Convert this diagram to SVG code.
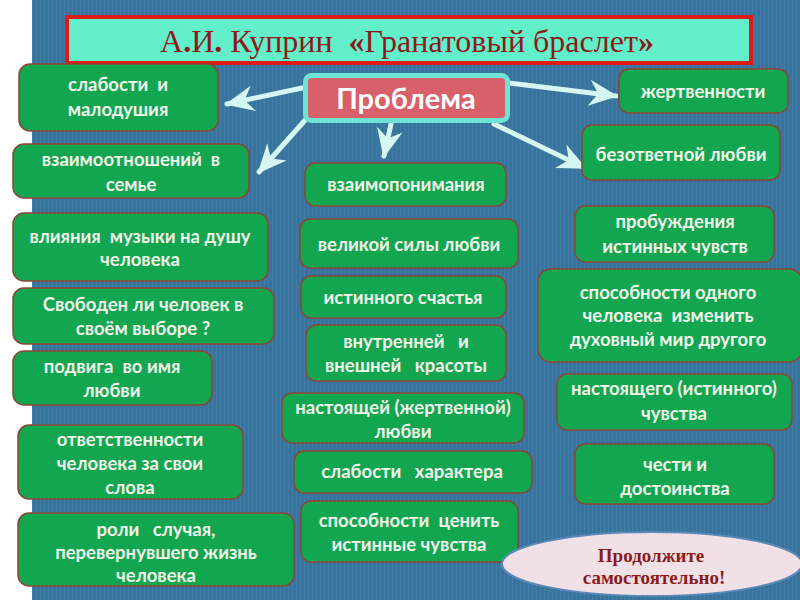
<svg xmlns="http://www.w3.org/2000/svg" width="800" height="600" viewBox="0 0 800 600">
<defs>
<pattern id="stripes" width="4" height="4" patternUnits="userSpaceOnUse">
<rect width="4" height="4" fill="#3a739b"/>
<rect width="1" height="4" fill="#3f7ca6"/>
</pattern>
<marker id="ah" markerUnits="userSpaceOnUse" viewBox="-30 -14 34 28" refX="0" refY="0" markerWidth="34" markerHeight="28" orient="auto">
<path d="M2,0 L-27,-13 L-18,0 L-27,13 Z" fill="#d4f7f2"/>
</marker>
<style>
text{white-space:pre}
.node rect{fill:#12a651;stroke:#8c4634;stroke-width:1.5}
.node text{font-family:Lato,"Noto Sans",sans-serif;font-weight:700;font-size:18.5px;fill:#f2f7ea;text-anchor:middle}
.conn line{stroke:#d4f7f2;stroke-width:5;stroke-linecap:round}
.serif{font-family:"Liberation Serif","Times New Roman",serif;fill:#8b1b1b}
</style>
</defs>
<rect width="800" height="600" fill="#ffffff"/>
<rect x="32" y="0" width="768" height="600" fill="url(#stripes)"/>

<g id="title">
<rect x="67" y="17" width="684" height="46" fill="#62efc9" stroke="#e01919" stroke-width="4"/>
<text class="serif" x="407" y="52" font-size="32" text-anchor="middle">А<tspan font-weight="700">.</tspan>И<tspan font-weight="700">.</tspan> Куприн  <tspan font-weight="700">«</tspan>Гранатовый браслет<tspan font-weight="700">»</tspan></text>
</g>

<g class="conn" id="connectors">
<line x1="302" y1="88" x2="227" y2="104" marker-end="url(#ah)"/>
<line x1="307" y1="118" x2="259" y2="172" marker-end="url(#ah)"/>
<line x1="391" y1="124" x2="384" y2="156" marker-end="url(#ah)"/>
<line x1="509" y1="83" x2="616" y2="96" marker-end="url(#ah)"/>
<line x1="494" y1="124" x2="585" y2="168" marker-end="url(#ah)"/>
</g>

<g id="problem">
<rect x="305.5" y="75.5" width="202" height="45" rx="6" fill="#d8606a" stroke="#6fe3d3" stroke-width="5"/>
<text x="406" y="109" font-family="Lato,'Noto Sans',sans-serif" font-weight="700" font-size="29" fill="#ffffff" text-anchor="middle">Проблема</text>
</g>

<g class="node" id="n1"><rect x="19" y="64" width="199" height="67" rx="11"/><text x="118" y="91">слабости  и</text><text x="118" y="116">малодушия</text></g>
<g class="node" id="n2"><rect x="13" y="144" width="236" height="54" rx="11"/><text x="131" y="166">взаимоотношений  в</text><text x="131" y="191">семье</text></g>
<g class="node" id="n3"><rect x="13" y="213" width="255" height="68" rx="11"/><text x="140" y="243">влияния  музыки на душу</text><text x="140" y="266">человека</text></g>
<g class="node" id="n4"><rect x="13" y="288" width="261" height="56" rx="11"/><text x="143" y="311">Свободен ли человек в</text><text x="143" y="335">своём выборе ?</text></g>
<g class="node" id="n5"><rect x="13" y="351" width="199" height="54" rx="11"/><text x="112" y="373">подвига  во имя</text><text x="112" y="397">любви</text></g>
<g class="node" id="n6"><rect x="18" y="425" width="225" height="74" rx="11"/><text x="130" y="446">ответственности</text><text x="130" y="470">человека за свои</text><text x="130" y="494">слова</text></g>
<g class="node" id="n7"><rect x="18" y="513" width="276" height="73" rx="11"/><text x="156" y="536">роли   случая,</text><text x="156" y="559">перевернувшего жизнь</text><text x="156" y="582">человека</text></g>

<g class="node" id="n8"><rect x="305" y="163" width="201" height="43" rx="10"/><text x="406" y="191">взаимопонимания</text></g>
<g class="node" id="n9"><rect x="300" y="219" width="218" height="49" rx="10"/><text x="409" y="251">великой силы любви</text></g>
<g class="node" id="n10"><rect x="301" y="276" width="205" height="42" rx="10"/><text x="403" y="304">истинного счастья</text></g>
<g class="node" id="n11"><rect x="306" y="325" width="200" height="56" rx="10"/><text x="406" y="348">внутренней   и</text><text x="406" y="372">внешней   красоты</text></g>
<g class="node" id="n12"><rect x="282" y="393" width="242" height="50" rx="10"/><text x="403" y="414">настоящей (жертвенной)</text><text x="403" y="438">любви</text></g>
<g class="node" id="n13"><rect x="294" y="451" width="238" height="42" rx="10"/><text x="412" y="478">слабости   характера</text></g>
<g class="node" id="n14"><rect x="301" y="501" width="217" height="61" rx="10"/><text x="409" y="527">способности  ценить</text><text x="409" y="551">истинные чувства</text></g>

<g class="node" id="n15"><rect x="619" y="69" width="169" height="44" rx="10"/><text x="703" y="98">жертвенности</text></g>
<g class="node" id="n16"><rect x="582" y="125" width="198" height="55" rx="10"/><text x="681" y="161">безответной любви</text></g>
<g class="node" id="n17"><rect x="575" y="206" width="199" height="56" rx="10"/><text x="675" y="228">пробуждения</text><text x="675" y="253">истинных чувств</text></g>
<g class="node" id="n18"><rect x="538" y="269" width="264" height="93" rx="13"/><text x="668" y="299">способности одного</text><text x="668" y="322">человека  изменить</text><text x="668" y="346">духовный мир другого</text></g>
<g class="node" id="n19"><rect x="557" y="374" width="235" height="56" rx="10"/><text x="674" y="395">настоящего (истинного)</text><text x="674" y="420">чувства</text></g>
<g class="node" id="n20"><rect x="575" y="444" width="199" height="60" rx="10"/><text x="675" y="471">чести и</text><text x="675" y="495">достоинства</text></g>

<g id="continue">
<ellipse cx="652" cy="564" rx="150" ry="32" fill="#f2e0e7" stroke="#5b8ab8" stroke-width="2"/>
<text class="serif" x="651" y="562" font-size="19" font-weight="700" text-anchor="middle">Продолжите</text>
<text class="serif" x="654" y="584" font-size="19" font-weight="700" text-anchor="middle">самостоятельно!</text>
</g>
</svg>
